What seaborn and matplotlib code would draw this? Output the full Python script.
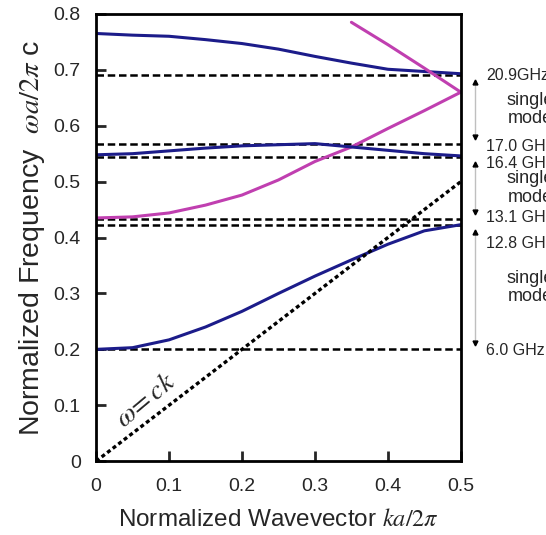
import numpy as np
import pandas as pd
import seaborn as sns
import matplotlib.pyplot as plt

# band structure
k = [0.0, 0.05, 0.1, 0.15, 0.2, 0.25, 0.3, 0.35, 0.4, 0.45, 0.5]
band1 = [0.200, 0.203, 0.217, 0.240, 0.268, 0.300, 0.331, 0.360, 0.388, 0.412, 0.423]
band2 = [0.435, 0.437, 0.444, 0.458, 0.476, 0.503, 0.536, 0.562, 0.595, 0.627, 0.660]
band3 = [0.548, 0.550, 0.555, 0.560, 0.564, 0.566, 0.568, 0.562, 0.556, 0.550, 0.546]
band4 = [0.765, 0.762, 0.760, 0.754, 0.747, 0.737, 0.724, 0.712, 0.701, 0.697, 0.693]
k_upper = [0.35, 0.4, 0.45, 0.5]
band5 = [0.785, 0.745, 0.703, 0.660]
light_k = [0.0, 0.5]
light_w = [0.0, 0.5]

# band edge levels and labels
levels = [0.690, 0.567, 0.544, 0.433, 0.422, 0.200]
level_labels = ["20.9GHz", "17.0 GHz", "16.4 GHz", "13.1 GHz", "12.8 GHz", "6.0 GHz"]
label_shift = [0, -1.5, -5, 1, -13, -1]  # points, to keep labels apart
single_ranges = [(0.690, 0.567), (0.544, 0.433), (0.422, 0.200)]

sns.set_theme(style="ticks")
plt.rcParams['font.family'] = ['Liberation Sans', 'DejaVu Sans']
plt.rcParams['mathtext.fontset'] = 'stix'

fig = plt.figure(figsize=(5.46, 5.35), dpi=100)
ax = fig.add_axes([0.176, 0.138, 0.668, 0.836])

navy = "#1c1c8a"
magenta = "#c03fb0"

df = pd.DataFrame({"k": k, "b1": band1, "b2": band2, "b3": band3, "b4": band4})
for col, c in [("b1", navy), ("b2", magenta), ("b3", navy), ("b4", navy)]:
    sns.lineplot(data=df, x="k", y=col, color=c, lw=2.2, ax=ax)
sns.lineplot(x=k_upper, y=band5, color=magenta, lw=2.2, ax=ax)

for lv in levels:
    ax.axhline(lv, color="black", lw=1.8, ls=(0, (3, 1.5)), zorder=1)

ax.plot(light_k, light_w, color="black", lw=2.4, ls=(0, (1.2, 0.9)))
ax.text(0.068, 0.109, r"$\omega\!=ck$", rotation=40, fontsize=20,
        ha="center", va="center")

ax.set_xlim(0, 0.5)
ax.set_ylim(0, 0.8)
ax.set_xticks([0, 0.1, 0.2, 0.3, 0.4, 0.5])
ax.set_xticklabels(["0", "0.1", "0.2", "0.3", "0.4", "0.5"])
ax.set_yticks([0, 0.1, 0.2, 0.3, 0.4, 0.5, 0.6, 0.7, 0.8])
ax.set_yticklabels(["0", "0.1", "0.2", "0.3", "0.4", "0.5", "0.6", "0.7", "0.8"])
ax.tick_params(direction="in", length=7, width=2, labelsize=14)
ax.tick_params(axis="x", pad=12)
ax.tick_params(axis="y", pad=11)
for s in ax.spines.values():
    s.set_linewidth(2)
    s.set_color("black")

ax.set_xlabel(r"Normalized Wavevector $ka/2\pi$", fontsize=17.5, labelpad=10)
ax.set_ylabel(r"Normalized Frequency  $\omega a/2\pi$ c", fontsize=20.5, labelpad=5)

# right-hand annotations
trans = ax.get_yaxis_transform()
for lv, lab, sh in zip(levels, level_labels, label_shift):
    ax.annotate(lab, xy=(1.07, lv), xycoords=trans, xytext=(0, sh),
                textcoords="offset points", fontsize=11.5, ha="left",
                va="center", annotation_clip=False)
for top, bot in single_ranges:
    ax.plot([1.04, 1.04], [top - 0.008, bot + 0.01], color="0.75", lw=1,
            transform=trans, clip_on=False)
    ax.plot([1.04], [top - 0.012], marker="^", ms=3.5, color="black",
            transform=trans, clip_on=False)
    ax.plot([1.04], [bot + 0.012], marker="v", ms=3.5, color="black",
            transform=trans, clip_on=False)
    ax.text(1.19, (top + bot) / 2, "single\nmode", transform=trans,
            fontsize=13, ha="center", va="center", linespacing=1.1)

fig.savefig("out.png", dpi=100)
